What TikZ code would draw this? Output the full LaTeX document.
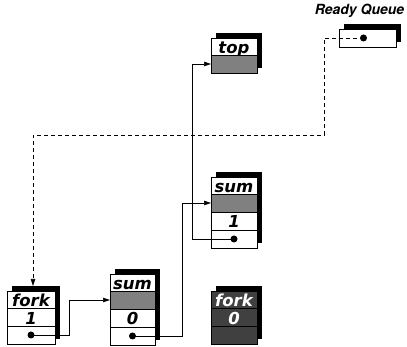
\documentclass[tikz,border=0pt]{standalone}
\usepackage{fontspec}
\setsansfont{TeX Gyre Heros}
\newfontfamily\cellfont{DejaVu Sans}
\usetikzlibrary{arrows.meta, positioning, calc, backgrounds}

\begin{document}
\begin{tikzpicture}[
    x=1pt, y=-1pt,
    cell/.style={rectangle, draw=black, fill=white, line width=0.6pt, outer sep=0pt, minimum width=46pt, minimum height=18pt, inner sep=0pt, text height=15.5pt, text depth=1.5pt, font=\fontsize{16.5}{16.5}\selectfont\cellfont\bfseries\itshape},
    head/.style={cell, minimum height=17pt},
    slot/.style={cell, fill=black!50},
    dark/.style={fill=black!75, text=white},
    ptr/.style={circle, fill=black, inner sep=0pt, minimum size=7pt},
    arrow/.style={-{Triangle[length=7pt, width=4.5pt]}, line width=0.6pt},
    dashedarrow/.style={arrow, dash pattern=on 4pt off 3pt},
    qtext/.style={font=\fontsize{14}{14}\selectfont\sffamily\bfseries\itshape}
]
\useasboundingbox (0,0) rectangle (407,347);

% Ready queue
\node[cell, anchor=north west, minimum width=57pt] (rq) at (339,29) {};
\node[ptr] (rq_p) at ([xshift=-4pt]rq.center) {};
\node[qtext, above=8pt of rq, xshift=-8pt] (rq_l) {Ready Queue};

% top frame
\node[head, anchor=north west] (top_t) at (211,38) {top};
\node[slot, below=0pt of top_t] (top_g) {};

% sum frame (middle)
\node[head, anchor=north west] (msum_t) at (211,177) {sum};
\node[slot, below=0pt of msum_t] (msum_g) {};
\node[cell, below=0pt of msum_g] (msum_v) {1};
\node[cell, below=0pt of msum_v] (msum_d) {};
\node[ptr] (msum_p) at (msum_d) {};

% fork frame
\node[head, anchor=north west, minimum width=48pt] (fork_t) at (7,291) {fork};
\node[cell, below=0pt of fork_t, minimum width=48pt] (fork_v) {1};
\node[cell, below=0pt of fork_v, minimum width=48pt] (fork_d) {};
\node[ptr] (fork_p) at (fork_d) {};

% sum frame (bottom)
\node[head, anchor=north west, minimum width=45pt] (sum_t) at (110,274) {sum};
\node[slot, below=0pt of sum_t, minimum width=45pt] (sum_g) {};
\node[cell, below=0pt of sum_g, minimum width=45pt] (sum_v) {0};
\node[cell, below=0pt of sum_v, minimum width=45pt] (sum_d) {};
\node[ptr] (sum_p) at (sum_d) {};

% dead fork frame
\node[head, dark, anchor=north west] (dfork_t) at (211,291) {fork};
\node[cell, dark, below=0pt of dfork_t] (dfork_v) {0};
\node[cell, dark, below=0pt of dfork_v] (dfork_d) {};

% shadows
\begin{scope}[on background layer]
\foreach \a/\b in {rq/rq, top_t/top_g, msum_t/msum_d, fork_t/fork_d, sum_t/sum_d, dfork_t/dfork_d}
    \fill[black] ($(\a.north west)+(5pt,5pt)$) rectangle ($(\b.south east)+(5pt,5pt)$);
\end{scope}

% links
\draw[arrow] (fork_p.center) -- ++(38,0) |- (sum_g.west);
\draw[arrow] (sum_p.center) -- ++(50,0) |- (msum_g.west);
\draw[arrow] (msum_p.center) -- ++(-42,0) |- (top_g.west);
\coordinate (qbend) at (324,135);
\draw[dashedarrow] (rq_p.center) -| (qbend) -| ([xshift=2pt, yshift=5pt]fork_t.north);

\end{tikzpicture}
\end{document}
